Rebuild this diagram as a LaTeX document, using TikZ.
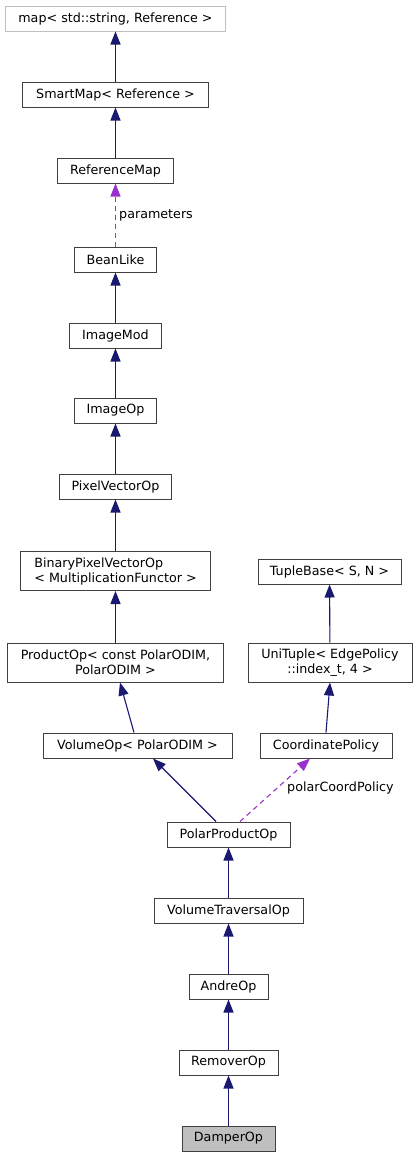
\documentclass[tikz,border=0pt]{standalone}
\usepackage{fontspec}
\setmainfont{DejaVu Sans}
\usetikzlibrary{arrows.meta}

\definecolor{edgeblue}{HTML}{191970}
\definecolor{usepurple}{HTML}{9A32CD}
\definecolor{boxgray}{HTML}{404040}
\definecolor{lightgray}{HTML}{BFBFBF}

\tikzset{
  cls/.style={draw=boxgray, line width=1pt, minimum height=25pt, inner sep=0pt,
              font=\fontsize{12.7}{15}\selectfont},
  tallcls/.style={cls, minimum height=39pt},
  inherit/.style={draw=edgeblue, line width=1.1pt, -{Triangle[width=10pt,length=13pt]}},
  uses/.style={draw=usepurple, line width=1.1pt, dash pattern=on 5pt off 4pt,
               -{Triangle[width=10pt,length=13pt,fill=usepurple,sep=0pt]}},
  edgelabel/.style={anchor=west, inner sep=0pt, font=\fontsize{12.7}{15}\selectfont}
}

\begin{document}
\begin{tikzpicture}[x=1pt,y=-1pt]
\useasboundingbox (0,0) rectangle (417,1157);

% left column, base classes
\node[cls, draw=lightgray, minimum width=220pt] (map) at (115.5,18.5) {map< std::string, Reference >};
\node[cls, minimum width=186pt] (smartmap) at (115.5,94.5) {SmartMap< Reference >};
\node[cls, minimum width=116pt] (refmap) at (115.5,170.5) {ReferenceMap};
\node[cls, minimum width=82pt] (beanlike) at (115.5,259.5) {BeanLike};
\node[cls, minimum width=92pt] (imagemod) at (115.5,335.5) {ImageMod};
\node[cls, minimum width=82pt] (imageop) at (115.5,410.5) {ImageOp};
\node[cls, minimum width=112pt] (pixvecop) at (115.5,486.5) {PixelVectorOp};
\node[tallcls, minimum width=190pt, align=left] (binpixvecop) at (115.5,571)
  {BinaryPixelVectorOp\\< MultiplicationFunctor >};
\node[tallcls, minimum width=216pt, align=center] (prodop) at (115.5,662.5)
  {ProductOp< const PolarODIM,\\PolarODIM >};
\node[cls, minimum width=189pt] (volop) at (137.5,745.5) {VolumeOp< PolarODIM >};

% right column
\node[cls, minimum width=143pt] (tuplebase) at (329.5,571.5) {TupleBase< S, N >};
\node[tallcls, minimum width=164pt, align=center] (unituple) at (330,662.5)
  {UniTuple< EdgePolicy\\::index\_t, 4 >};
\node[cls, minimum width=132pt] (coordpol) at (326,745.5) {CoordinatePolicy};

% derived chain
\node[cls, minimum width=123pt] (polprodop) at (228.5,834.5) {PolarProductOp};
\node[cls, minimum width=149pt] (voltravop) at (228.5,910.5) {VolumeTraversalOp};
\node[cls, minimum width=79pt] (andreop) at (228.5,986.5) {AndreOp};
\node[cls, minimum width=99pt] (removerop) at (228.5,1062.5) {RemoverOp};
\node[cls, fill=lightgray, minimum width=93pt] (damperop) at (228.5,1138.5) {DamperOp};

% inheritance arrows
\draw[inherit] (smartmap) -- (map);
\draw[inherit] (refmap) -- (smartmap);
\draw[inherit] (imagemod) -- (beanlike);
\draw[inherit] (imageop) -- (imagemod);
\draw[inherit] (pixvecop) -- (imageop);
\draw[inherit] (binpixvecop) -- (pixvecop);
\draw[inherit] (prodop) -- (binpixvecop);
\draw[inherit] ([xshift=-3.5pt]volop.north) -- ([xshift=4.5pt]prodop.south);
\draw[inherit] (unituple) -- (tuplebase);
\draw[inherit] (coordpol.north) -- (unituple.south);
\draw[inherit] ([xshift=-12.5pt]polprodop.north) -- ([xshift=15.5pt]volop.south);
\draw[inherit] (voltravop) -- (polprodop);
\draw[inherit] (andreop) -- (voltravop);
\draw[inherit] (removerop) -- (andreop);
\draw[inherit] (damperop) -- (removerop);

% usage arrows
\draw[uses] (beanlike) -- (refmap);
\node[edgelabel] (paramlabel) at (119,215) {parameters};
\draw[uses] ([xshift=11.5pt]polprodop.north) -- ([xshift=-16pt]coordpol.south);
\node[edgelabel] (polarlabel) at (287,788) {polarCoordPolicy};
\end{tikzpicture}
\end{document}
